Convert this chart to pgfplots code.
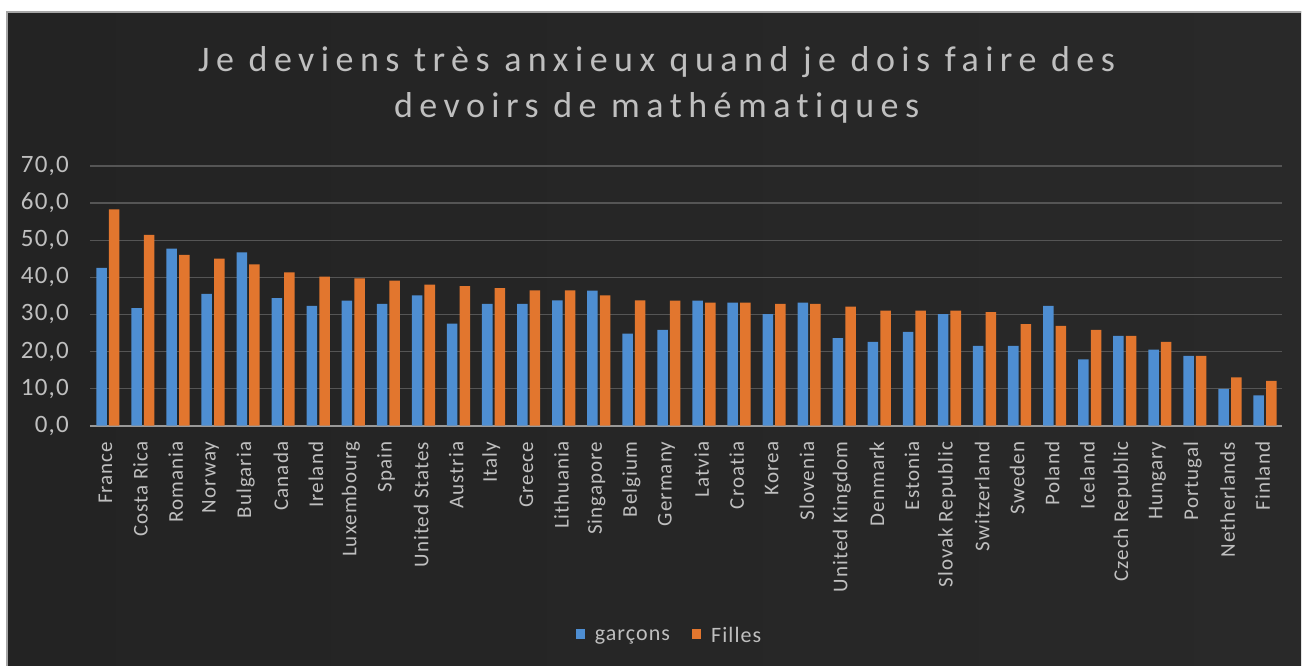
\documentclass[border=0pt]{standalone}
\usepackage{pgfplots}
\pgfplotsset{compat=1.18}
\usepackage{fontspec}
\setmainfont[Ligatures=NoCommon]{Carlito}
\newfontfamily\titlefont[LetterSpace=18, Ligatures=NoCommon]{Carlito}
\newfontfamily\lblfont[LetterSpace=5, Ligatures=NoCommon]{Carlito}
\definecolor{bgdark}{HTML}{232323}
\definecolor{bgmid}{HTML}{444444}
\definecolor{bgright}{HTML}{292929}
\definecolor{txtgray}{HTML}{BFBFBF}
\definecolor{gridgray}{HTML}{555555}
\definecolor{barblue}{HTML}{4E8ED2}
\definecolor{barorange}{HTML}{E2762E}
\pgfplotstableread{
idx g f
0 42.5 58.3
1 31.7 51.4
2 47.7 46.0
3 35.5 45.0
4 46.7 43.5
5 34.4 41.3
6 32.3 40.2
7 33.7 39.7
8 32.8 39.1
9 35.1 38.0
10 27.5 37.6
11 32.8 37.1
12 32.8 36.5
13 33.8 36.5
14 36.4 35.1
15 24.8 33.8
16 25.8 33.7
17 33.7 33.2
18 33.2 33.2
19 30.1 32.8
20 33.2 32.8
21 23.6 32.1
22 22.6 31.0
23 25.3 31.0
24 30.1 31.0
25 21.5 30.6
26 21.5 27.4
27 32.3 26.9
28 17.9 25.8
29 24.2 24.2
30 20.5 22.6
31 18.8 18.8
32 9.9 13.0
33 8.2 12.1
}\datatable
\begin{document}
\begin{tikzpicture}
\fill[white] (0pt,0pt) rectangle (651pt,-333pt);
\shade[left color=bgdark, middle color=bgmid, right color=bgright] (3.5pt,-6pt) rectangle (651pt,-333pt);
\draw[gray!70, line width=0.8pt] (3.5pt,-333pt) -- (3.5pt,-6pt) -- (651pt,-6pt);
\node[text=txtgray, align=center, font=\titlefont\fontsize{18}{23}\selectfont] at (328.5pt,-42.5pt)
  {Je deviens très anxieux quand je dois faire des\\devoirs de mathématiques};
\begin{axis}[
  at={(45pt,-213pt)}, anchor=south west,
  scale only axis, width=596.5pt, height=130pt,
  xmin=-0.5, xmax=33.5, ymin=0, ymax=70,
  ytick={0,10,...,70},
  xtick={0,...,33},
  xticklabels={France,Costa Rica,Romania,Norway,Bulgaria,Canada,Ireland,Luxembourg,Spain,United States,Austria,Italy,Greece,Lithuania,Singapore,Belgium,Germany,Latvia,Croatia,Korea,Slovenia,United Kingdom,Denmark,Estonia,Slovak Republic,Switzerland,Sweden,Poland,Iceland,Czech Republic,Hungary,Portugal,Netherlands,Finland},
  axis x line*=bottom, axis y line*=left,
  x axis line style={draw=gray!80, line width=0.8pt, -},
  y axis line style={draw=none},
  major tick length=0pt,
  ymajorgrids, grid style={gridgray, line width=0.6pt},
  yticklabel style={font=\lblfont\fontsize{12.5}{14}\selectfont, text=txtgray, xshift=-7pt},
  xticklabel style={font=\lblfont\fontsize{10.5}{12}\selectfont, text=txtgray, yshift=-4.5pt, xshift=-1pt, rotate=90, anchor=east},
  /pgf/number format/.cd, fixed, fixed zerofill, precision=1, use comma, assume math mode=true,
  /pgfplots/.cd,
  legend style={at={(0.487,-0.81)}, anchor=center, draw=none, fill=none, text=txtgray,
    font=\lblfont\fontsize{11}{13}\selectfont, legend columns=2,
    /tikz/every odd column/.append style={column sep=3pt},
    /tikz/every even column/.append style={column sep=9pt}},
]
\addplot[ybar, bar width=0.3, bar shift=-0.17, fill=barblue, draw=none,
  legend image code/.code={\fill[barblue] (0pt,-1.5pt) rectangle (4.5pt,3.5pt);}] table[x=idx, y=g] {\datatable};
\addlegendentry{garçons}
\addplot[ybar, bar width=0.3, bar shift=0.19, fill=barorange, draw=none,
  legend image code/.code={\fill[barorange] (0pt,-1.5pt) rectangle (4.5pt,3.5pt);}] table[x=idx, y=f] {\datatable};
\addlegendentry{Filles}
\end{axis}
\end{tikzpicture}
\end{document}
